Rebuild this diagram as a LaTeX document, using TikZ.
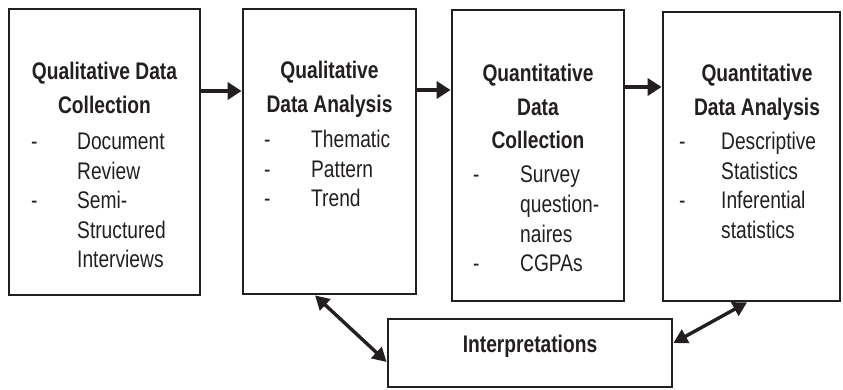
\documentclass[tikz,border=0pt]{standalone}
\usepackage{fontspec}
\setmainfont[FakeStretch=0.8]{Liberation Sans}
\usetikzlibrary{arrows.meta,positioning}
\definecolor{ink}{HTML}{231F20}

% heading lines, centred; list of items with a dash in front
\newcommand{\hd}[1]{\begin{tabular}[t]{@{}c@{}}#1\end{tabular}}
\newcommand{\lst}[2]{\begin{tabular}[t]{@{}p{#1}@{}l@{}}#2\end{tabular}}

\tikzset{
	stagebox/.style={draw=ink, line width=2.8pt, inner sep=0pt},
	headtext/.style={font=\bfseries\fontsize{24}{33.5}\selectfont, text=ink, anchor=base, inner sep=0pt},
	listtext/.style={font=\fontsize{24}{29.5}\selectfont, text=ink, anchor=base west, inner sep=0pt},
	flow/.style={-{Triangle[length=14pt,width=17pt]}, line width=3.6pt, draw=ink},
	twoway/.style={{Triangle[length=14pt,width=15pt]}-{Triangle[length=14pt,width=15pt]}, line width=3.4pt, draw=ink}
}

\begin{document}
\begin{tikzpicture}[x=1pt,y=-1pt]
	\useasboundingbox (0,0) rectangle (843,390);
	% the four stages
	\node[stagebox, minimum width=191pt, minimum height=286pt] (qualcol) at (104.5,152) {};
	\node[stagebox, minimum width=173pt, minimum height=285pt] (qualana) at (329.5,151.5) {};
	\node[stagebox, minimum width=172pt, minimum height=291pt] (quancol) at (538,155.5) {};
	\node[stagebox, minimum width=177pt, minimum height=289pt] (quanana) at (751.5,156.5) {};
	\node[stagebox, minimum width=284pt, minimum height=68pt] (interp) at (530,353) {};
	
	\node[headtext] (qualcolH) at (104.5,80) {\hd{Qualitative Data\\Collection}};
	\node[listtext] (qualcolL) at (31,150) {\lst{46pt}{-&Document\\&Review\\-&Semi-\\&Structured\\&Interviews}};
	
	\node[headtext] (qualanaH) at (329.5,79) {\hd{Qualitative\\Data Analysis}};
	\node[listtext] (qualanaL) at (264,148) {\lst{47pt}{-&Thematic\\-&Pattern\\-&Trend}};
	
	\node[headtext] (quancolH) at (538,82) {\hd{Quantitative\\Data\\Collection}};
	\node[listtext] (quancolL) at (473,183) {\lst{47pt}{-&Survey\\&question-\\&naires\\-&CGPAs}};
	
	\node[headtext] (quananaH) at (757,82) {\hd{Quantitative\\Data Analysis}};
	\node[listtext] (quananaL) at (679,150) {\lst{42pt}{-&Descriptive\\&Statistics\\-&Inferential\\&statistics}};
	
	\node[headtext] (interpH) at (530,352) {Interpretations};
	
	% flow between stages
	\draw[flow] (qualcol.east |- 0,91) -- (qualana.west |- 0,91);
	\draw[flow] (qualana.east |- 0,90) -- (quancol.west |- 0,90);
	\draw[flow] (quancol.east |- 0,87) -- (quanana.west |- 0,87);
	\draw[twoway] (qualana.south -| 315,0) -- (interp.west |- 0,362);
	\draw[twoway] (quanana.south -| 747,0) -- (interp.east |- 0,343);
\end{tikzpicture}
\end{document}
